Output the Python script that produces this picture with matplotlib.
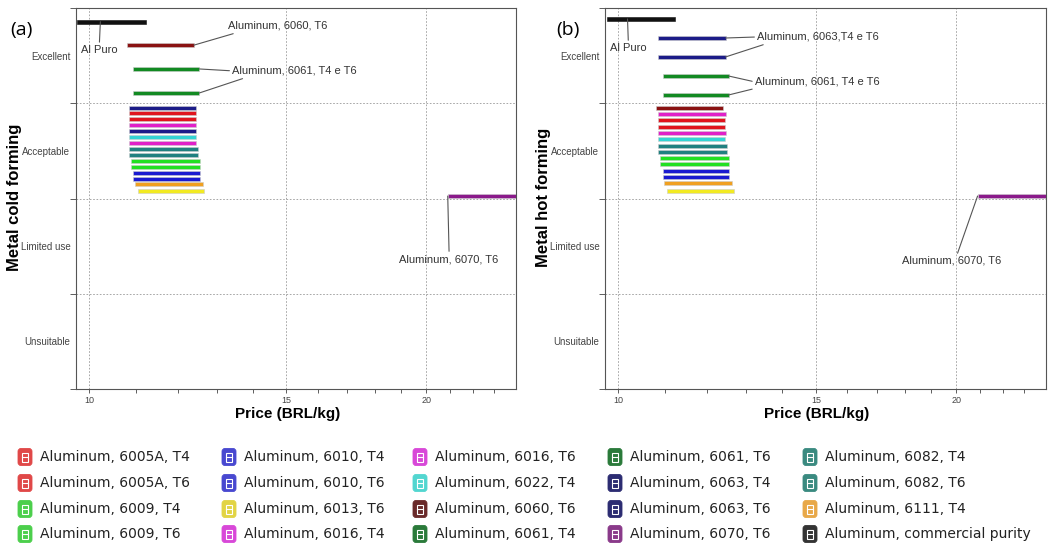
import matplotlib
matplotlib.use("Agg")
import matplotlib.pyplot as plt
from matplotlib.ticker import FixedLocator, NullFormatter, FuncFormatter
from matplotlib.patches import FancyBboxPatch, Rectangle

plt.rcParams['font.family'] = ['Liberation Sans', 'DejaVu Sans']

# ---------------- data ----------------
names = ["Aluminum, 6005A, T4", "Aluminum, 6005A, T6", "Aluminum, 6009, T4", "Aluminum, 6009, T6",
         "Aluminum, 6010, T4", "Aluminum, 6010, T6", "Aluminum, 6013, T6", "Aluminum, 6016, T4",
         "Aluminum, 6016, T6", "Aluminum, 6022, T4", "Aluminum, 6060, T6", "Aluminum, 6061, T4",
         "Aluminum, 6061, T6", "Aluminum, 6063, T4", "Aluminum, 6063, T6", "Aluminum, 6070, T6",
         "Aluminum, 6082, T4", "Aluminum, 6082, T6", "Aluminum, 6111, T4", "Aluminum, commercial purity"]
colors = ["#e0141e", "#e0141e", "#22e022", "#22e022",
          "#1a1ad0", "#1a1ad0", "#f2ea22", "#e020c8",
          "#e020c8", "#34d4d4", "#8a1212", "#128a22",
          "#128a22", "#1c1c88", "#1c1c88", "#8a1a8a",
          "#208080", "#208080", "#f0a020", "#111111"]
icon_colors = ["#e04848", "#e04848", "#4ccf4c", "#4ccf4c",
               "#4848d0", "#4848d0", "#e2d444", "#d848d8",
               "#d848d8", "#52d6d0", "#6a2a2a", "#2a7a3a",
               "#2a7a3a", "#2c2c72", "#2c2c72", "#8a3a8a",
               "#3a8a80", "#3a8a80", "#e8a848", "#333333"]
price_low = [10.84, 10.84, 10.90, 10.90, 10.95, 10.95, 11.05, 10.84, 10.84, 10.85,
             10.80, 10.95, 10.95, 10.84, 10.84, 20.9, 10.84, 10.84, 10.98, 9.76]
price_high = [12.45, 12.45, 12.56, 12.56, 12.56, 12.56, 12.67, 12.46, 12.46, 12.45,
              12.40, 12.54, 12.54, 12.46, 12.46, 26.0, 12.50, 12.50, 12.63, 11.24]
# vertical position of each material inside its rating band (0-1 Unsuitable ... 3-4 Excellent)
y_cold = [2.894, 2.835, 2.397, 2.334, 2.268, 2.205, 2.082, 2.772, 2.583, 2.646,
          3.610, 3.360, 3.108, 2.950, 2.709, 2.026, 2.523, 2.460, 2.149, 3.856]
y_hot = [2.824, 2.751, 2.425, 2.362, 2.289, 2.226, 2.079, 2.887, 2.688, 2.625,
         2.950, 3.286, 3.087, 3.685, 3.486, 2.026, 2.551, 2.488, 2.163, 3.885]
ratings = ["Unsuitable", "Limited use", "Acceptable", "Excellent"]
x_major = [10, 15, 20]
x_minor = [11, 12, 13, 14, 16, 17, 18, 19, 21, 22, 23]

W, H = 1048, 547
fig = plt.figure(figsize=(W / 100, H / 100), dpi=100)
fig.patch.set_facecolor("white")

def make_axes(left, right):
    return fig.add_axes([left / W, 1 - 389 / H, (right - left) / W, (389 - 8) / H])

ax_a = make_axes(76, 516)
ax_b = make_axes(605, 1046)

def style(ax, ylabel):
    ax.set_xscale("log")
    ax.set_xlim(9.73, 24.05)
    ax.set_ylim(0, 4)
    ax.xaxis.set_major_locator(FixedLocator(x_major))
    ax.xaxis.set_minor_locator(FixedLocator(x_minor))
    ax.xaxis.set_major_formatter(FuncFormatter(lambda v, p: "%d" % v))
    ax.xaxis.set_minor_formatter(NullFormatter())
    ax.yaxis.set_major_locator(FixedLocator([0, 1, 2, 3, 4]))
    ax.yaxis.set_major_formatter(NullFormatter())
    ax.yaxis.set_minor_locator(FixedLocator([0.5, 1.5, 2.5, 3.5]))
    ax.yaxis.set_minor_formatter(FuncFormatter(lambda v, p: ratings[int(v)]))
    ax.tick_params(axis="x", which="both", direction="out", length=3, width=0.6,
                   colors="#444444", labelsize=6.5, pad=2)
    ax.tick_params(axis="y", which="major", direction="out", length=4, width=0.6,
                   colors="#444444")
    ax.tick_params(axis="y", which="minor", length=0, labelsize=7, pad=4,
                   colors="#444444")
    for s in ax.spines.values():
        s.set_color("#555555")
        s.set_linewidth(0.8)
    ax.grid(True, which="major", linestyle=(0, (2, 2)), color="#999999", linewidth=0.6)
    ax.set_axisbelow(True)
    ax.set_xlabel("Price (BRL/kg)", fontsize=11, fontweight="bold", va="top")
    ax.xaxis.set_label_coords(0.48, -0.046)
    ax.set_ylabel(ylabel, fontsize=12, fontweight="bold")
    ax.yaxis.set_label_coords(-0.123, 0.504)

def draw_bars(ax, ys):
    for lo, hi, y, c in zip(price_low, price_high, ys, colors):
        ax.barh(y, hi - lo, left=lo, height=0.042, color=c,
                edgecolor="#cccccc" if c != "#111111" else c, linewidth=0.4, zorder=3)

style(ax_a, "Metal cold forming")
style(ax_b, "Metal hot forming")
draw_bars(ax_a, y_cold)
draw_bars(ax_b, y_hot)

idx = {n: i for i, n in enumerate(names)}
lp = dict(arrowstyle="-", color="#555555", lw=0.8, shrinkA=0, shrinkB=0)

def note(ax, text, xy, xyt, ha, relpos, show=True):
    ax.annotate(text, xy=xy, xytext=xyt, ha=ha, va="center", fontsize=8,
                color="#333333" if show else (0, 0, 0, 0),
                textcoords="axes fraction", zorder=5,
                arrowprops=dict(lp, relpos=relpos))

cp = idx["Aluminum, commercial purity"]
a60 = idx["Aluminum, 6060, T6"]
a61 = [idx["Aluminum, 6061, T4"], idx["Aluminum, 6061, T6"]]
a63 = [idx["Aluminum, 6063, T4"], idx["Aluminum, 6063, T6"]]
a70 = idx["Aluminum, 6070, T6"]

# panel (a)
note(ax_a, "Al Puro", (10.23, y_cold[cp]), (0.053, 0.890), "center", (0.5, 1.0))
note(ax_a, "Aluminum, 6060, T6", (price_high[a60], y_cold[a60]), (0.345, 0.953), "left", (0.15, 0.0))
note(ax_a, "Aluminum, 6061, T4 e T6", (price_high[a61[0]], y_cold[a61[0]]), (0.355, 0.835), "left", (0.0, 0.5))
note(ax_a, "Aluminum, 6061, T4 e T6", (price_high[a61[1]], y_cold[a61[1]]), (0.355, 0.835), "left", (0.15, 0.0), show=False)
note(ax_a, "Aluminum, 6070, T6", (price_low[a70], y_cold[a70]), (0.848, 0.341), "center", (0.5, 1.0))

# panel (b)
note(ax_b, "Al Puro", (10.19, y_hot[cp]), (0.053, 0.895), "center", (0.5, 1.0))
note(ax_b, "Aluminum, 6063,T4 e T6", (price_high[a63[0]], y_hot[a63[0]]), (0.345, 0.924), "left", (0.0, 0.5))
note(ax_b, "Aluminum, 6063,T4 e T6", (price_high[a63[1]], y_hot[a63[1]]), (0.345, 0.924), "left", (0.12, 0.0), show=False)
note(ax_b, "Aluminum, 6061, T4 e T6", (price_high[a61[0]], y_hot[a61[0]]), (0.340, 0.806), "left", (0.0, 0.5))
note(ax_b, "Aluminum, 6061, T4 e T6", (price_high[a61[1]], y_hot[a61[1]]), (0.340, 0.806), "left", (0.05, 0.0), show=False)
note(ax_b, "Aluminum, 6070, T6", (price_low[a70], y_hot[a70]), (0.786, 0.336), "center", (0.55, 1.0))

fig.text(10 / W, 1 - 30 / H, "(a)", fontsize=14, family="Open Sans", ha="left", va="center")
fig.text(556 / W, 1 - 30 / H, "(b)", fontsize=14, family="Open Sans", ha="left", va="center")

# ---------------- legend ----------------
lg = fig.add_axes([0, 0, 1, 112 / H])
lg.set_xlim(0, W)
lg.set_ylim(H, H - 112)
lg.axis("off")
col_x = [18, 222, 413, 608, 803]
row_y = [457, 483, 509, 534]
for i, (n, c) in enumerate(zip(names, icon_colors)):
    cx = col_x[i // 4]
    cy = row_y[i % 4]
    lg.add_patch(FancyBboxPatch((cx, cy - 8.5), 14, 17,
                                boxstyle="round,pad=0,rounding_size=3",
                                facecolor=c, edgecolor=c, linewidth=0.6))
    lg.add_patch(Rectangle((cx + 4, cy - 4.5), 6, 9, fill=False, edgecolor="white", linewidth=0.8))
    lg.plot([cx + 4, cx + 10], [cy, cy], color="white", lw=0.8)
    lg.text(cx + 22, cy, n, fontsize=10, family="DejaVu Sans", color="#222222",
            ha="left", va="center")

fig.savefig("out.png", dpi=100, facecolor="white")
